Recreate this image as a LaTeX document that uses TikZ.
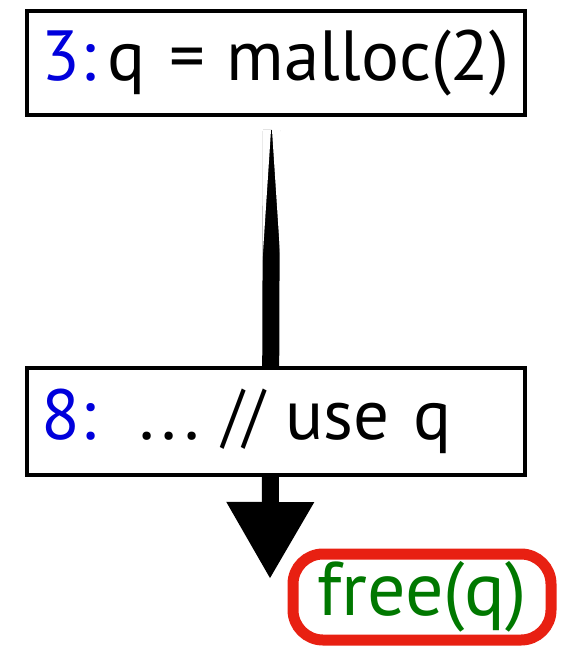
\documentclass[tikz,border=0pt]{standalone}
\usepackage{fontspec}
\setmainfont{PT Sans}
\usetikzlibrary{arrows.meta,backgrounds}
\definecolor{lineblue}{RGB}{0,0,220}
\definecolor{freegreen}{RGB}{0,120,0}
\definecolor{markred}{RGB}{232,32,18}
\newcommand{\lineno}[1]{\textcolor{lineblue}{#1}}
\newcommand{\dotdotdot}{.\kern7pt.\kern7pt.}
\newcommand{\cslash}{\scalebox{0.85}[1]{//}}
\tikzset{
  stmt/.style={draw,line width=4pt,fill=white,minimum width=498pt,
    text width=468pt,align=left,inner xsep=15pt,
    font=\fontsize{71}{73}\selectfont},
  flow/.style={line width=17pt,-{Triangle[length=77pt,width=83pt]}},
  circled/.style={draw=markred,line width=11pt,rounded corners=30pt,
    minimum width=258pt,minimum height=86pt,text=freegreen,
    font=\fontsize{76}{78}\selectfont}
}
\begin{document}
\begin{tikzpicture}[x=1pt,y=-1pt]
  \useasboundingbox (0,0) rectangle (571,650);
  % the two statements
  \node[stmt,minimum height=103.5pt] (alloc) at (275.5,63.25)
    {\raisebox{-3pt}{\lineno{3:}\hspace{12pt}q\hspace{24pt}=\hspace{21pt}malloc(2)}};
  \node[stmt,minimum height=107pt] (use) at (275.5,421.5)
    {\raisebox{-3pt}{\lineno{8:}\hspace{44pt}\dotdotdot\hspace{23pt}\cslash\hspace{20pt}use\hspace{24pt}q}};
  % the spot where q is freed
  \node[circled] (free) at (422,597) {free(q)};
  \coordinate (tip) at (270,579);
  \begin{pgfonlayer}{background}
    \draw[flow] ([shift={(-4,13)}]alloc.south) coordinate (top) -- (tip);
    % brush taper at the top of the stroke
    \fill[white] ([xshift=-9]top) -- ([xshift=-0.5]top) -- ++(-8.5,130) -- cycle;
    \fill[white] ([xshift=9]top) -- ([xshift=0.5]top) -- ++(8.5,130) -- cycle;
  \end{pgfonlayer}
\end{tikzpicture}
\end{document}
